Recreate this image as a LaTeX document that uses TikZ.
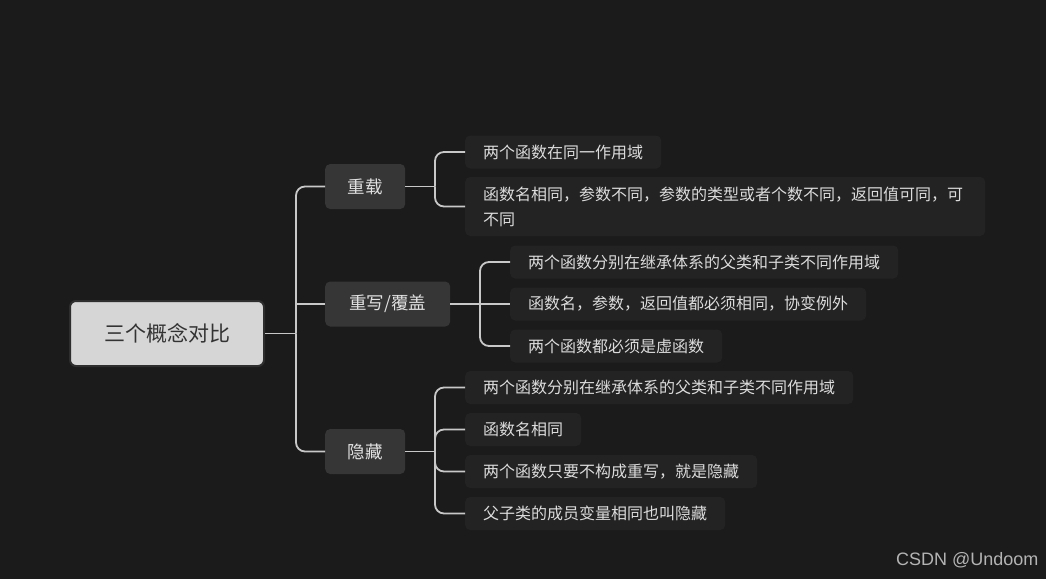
\documentclass[tikz,border=0pt]{standalone}
\usepackage{fontspec}
\setmainfont{Noto Sans CJK SC}
\newfontfamily\wmfont{Liberation Sans}
\definecolor{bgdark}{HTML}{1B1B1B}
\definecolor{rootfill}{HTML}{D6D6D6}
\definecolor{rootline}{HTML}{2E2E2E}
\definecolor{roottext}{HTML}{333333}
\definecolor{branchfill}{HTML}{363636}
\definecolor{branchtext}{HTML}{E2E2E2}
\definecolor{leaffill}{HTML}{232323}
\definecolor{leaftext}{HTML}{DCDCDC}
\definecolor{linecol}{HTML}{C8C8C8}
\definecolor{wmgray}{HTML}{B4B4B4}
\begin{document}
\begin{tikzpicture}[x=1pt,y=-1pt,
  root/.style={draw=rootline,line width=2pt,fill=rootfill,rounded corners=6pt,minimum width=194pt,minimum height=65pt,text=roottext,font=\fontsize{21}{25}\selectfont},
  branch/.style={fill=branchfill,rounded corners=5pt,minimum height=45pt,minimum width=80pt,inner xsep=22pt,text=branchtext,font=\fontsize{17.5}{20}\selectfont,anchor=west},
  leaf/.style={fill=leaffill,rounded corners=5pt,minimum height=33pt,inner xsep=18pt,text=leaftext,font=\fontsize{16}{25}\selectfont,anchor=west,align=left},
  conn/.style={draw=linecol,line width=1.8pt,rounded corners=9pt}]
\fill[bgdark] (0,0) rectangle (1046,579);
% root and branches
\node[root] (root) at (167,333.5) {三个概念对比};
\node[branch] (zz) at (325,186.5) {重载};
\node[branch,minimum width=125pt] (cx) at (325,304) {重写/覆盖};
\node[branch] (yc) at (325,451.5) {隐藏};
% leaves
\node[leaf] (zz1) at (465,152) {两个函数在同一作用域};
\node[leaf,text width=484pt,minimum height=59pt] (zz2) at (465,206.5) {函数名相同，参数不同，参数的类型或者个数不同，返回值可同，可\\不同};
\node[leaf] (cx1) at (510,262) {两个函数分别在继承体系的父类和子类不同作用域};
\node[leaf] (cx2) at (510,304) {函数名，参数，返回值都必须相同，协变例外};
\node[leaf] (cx3) at (510,346) {两个函数都必须是虚函数};
\node[leaf] (yc1) at (465,387.5) {两个函数分别在继承体系的父类和子类不同作用域};
\node[leaf] (yc2) at (465,429.5) {函数名相同};
\node[leaf] (yc3) at (465,471.5) {两个函数只要不构成重写，就是隐藏};
\node[leaf] (yc4) at (465,513.5) {父子类的成员变量相同也叫隐藏};
% trunks
\coordinate (rt) at (296,333.5);
\coordinate (zt) at (435,186.5);
\coordinate (ct) at (480,304);
\coordinate (yt) at (435,451.5);
% connectors
\draw[conn] (root.east) -- (rt);
\draw[conn] (rt) |- (zz.west);
\draw[conn] (rt) |- (yc.west);
\draw[conn] (cx.west -| rt) -- (cx.west);
\draw[conn] (zz.east) -- (zt);
\draw[conn] (cx.east) -- (ct);
\draw[conn] (yc.east) -- (yt);
\foreach \n in {zz1,zz2} \draw[conn] (zt) |- (\n.west);
\foreach \n in {cx1,cx3} \draw[conn] (ct) |- (\n.west);
\draw[conn] (ct) -- (cx2.west);
\foreach \n in {yc1,yc2,yc3,yc4} \draw[conn] (yt) |- (\n.west);
% watermark
\node[text=wmgray,font=\wmfont\fontsize{18}{20}\selectfont,anchor=east] (mark) at (1042,560) {CSDN @Undoom};
\end{tikzpicture}
\end{document}
